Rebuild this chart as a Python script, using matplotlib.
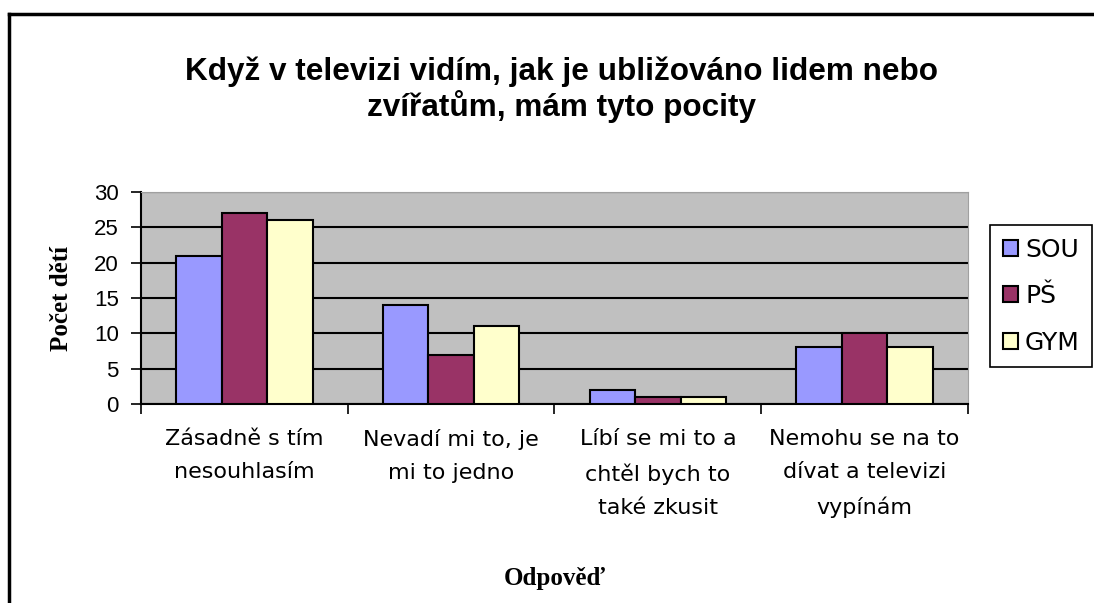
import numpy as np
import matplotlib
matplotlib.use("Agg")
import matplotlib.pyplot as plt
from matplotlib.lines import Line2D

# data
kategorie = ["Zásadně s tím\nnesouhlasím",
             "Nevadí mi to, je\nmi to jedno",
             "Líbí se mi to a\nchtěl bych to\ntaké zkusit",
             "Nemohu se na to\ndívat a televizi\nvypínám"]
skupiny = ["SOU", "PŠ", "GYM"]
sou = [21, 14, 2, 8]
ps = [27, 7, 1, 10]
gym = [26, 11, 1, 8]
barvy = ["#9999FF", "#993366", "#FFFFCC"]

fig = plt.figure(figsize=(10.94, 6.03), dpi=100)
ax = fig.add_axes([0.1289, 0.330, 0.7559, 0.3516])
ax.set_facecolor("#C0C0C0")

x = np.arange(len(kategorie))
sirka = 0.22
for i, (hodnoty, jmeno) in enumerate(zip([sou, ps, gym], skupiny)):
    ax.bar(x + (i - 1) * sirka, hodnoty, sirka, color=barvy[i],
           edgecolor="black", linewidth=1.5, label=jmeno, zorder=3)

ax.set_xlim(-0.5, len(kategorie) - 0.5)
ax.set_ylim(0, 30)
ax.set_yticks(range(0, 31, 5))
ax.yaxis.grid(True, color="black", linewidth=1.5, zorder=1)
ax.set_axisbelow(True)

# ticks between the groups, labels under the group centres
ax.set_xticks(np.arange(-0.5, len(kategorie), 1.0))
ax.set_xticklabels([])
ax.set_xticks(x, minor=True)
ax.set_xticklabels(kategorie, minor=True, fontsize=16, family="DejaVu Sans",
                   linespacing=1.82, va="top")
ax.tick_params(axis="x", which="minor", length=0, pad=18)
ax.tick_params(axis="x", which="major", length=7, width=1.2, direction="out")
ax.tick_params(axis="y", length=7, width=1.2, labelsize=16, pad=9)
for t in ax.get_yticklabels():
    t.set_family("Liberation Sans")

ax.spines["left"].set_linewidth(1.5)
ax.spines["bottom"].set_linewidth(1.5)
ax.spines["top"].set_color("#A0A0A0")
ax.spines["right"].set_color("#A0A0A0")

ax.set_ylabel("Počet dětí", fontsize=18, fontweight="bold",
              family="Liberation Serif", labelpad=15)
fig.text(0.507, 0.041, "Odpověď", fontsize=18, fontweight="bold",
         family="Liberation Serif", ha="center", va="center")

fig.text(0.513, 0.851, "Když v televizi vidím, jak je ubližováno lidem nebo\nzvířatům, mám tyto pocity",
         fontsize=22.7, fontweight="bold", family="Liberation Sans",
         ha="center", va="center", linespacing=1.1)

leg = fig.legend(loc="center left", bbox_to_anchor=(0.905, 0.509),
                 prop={"family": "DejaVu Sans", "size": 18},
                 fancybox=False, edgecolor="black", framealpha=1,
                 handlelength=0.6, handleheight=0.6, handletextpad=0.3,
                 borderpad=0.5, labelspacing=0.9, borderaxespad=0)
leg.get_frame().set_linewidth(1.2)

# chart border (left and top edges visible)
fig.add_artist(Line2D([9 / 1094, 9 / 1094], [0, 1 - 14 / 603], color="black", linewidth=2.5))
fig.add_artist(Line2D([9 / 1094, 1], [1 - 14 / 603, 1 - 14 / 603], color="black", linewidth=2.5))

fig.savefig("out.png", dpi=100)
